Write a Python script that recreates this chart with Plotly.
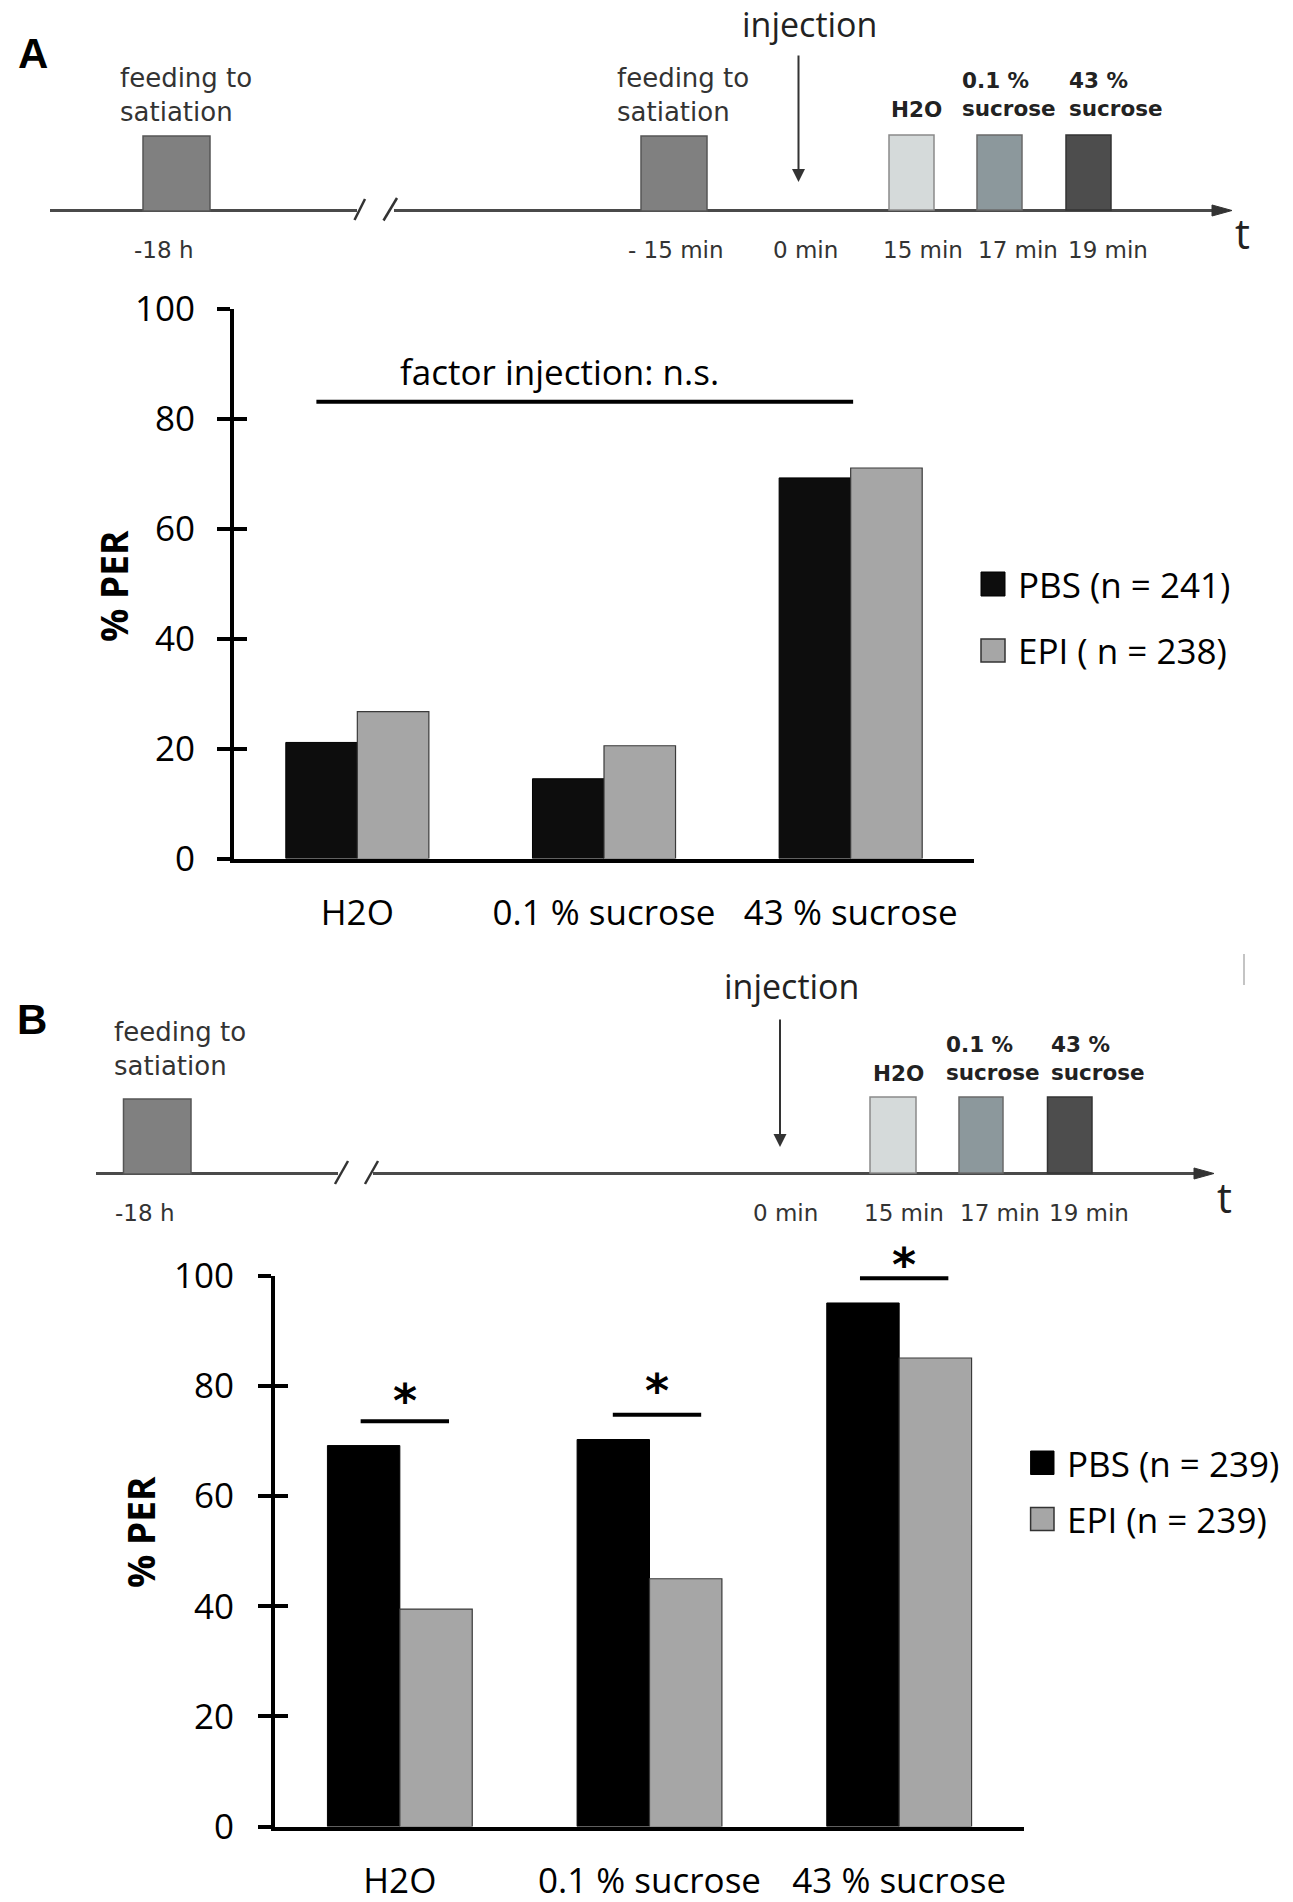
import plotly.graph_objects as go

W, H = 1293, 1902

# ---------------- data ----------------
categories = ["H2O", "0.1 % sucrose", "43 % sucrose"]
pbs_A = [21.1, 14.5, 69.2]
epi_A = [26.7, 20.5, 71.0]
pbs_B = [69.2, 70.3, 95.1]
epi_B = [39.5, 45.0, 85.1]
names_A = ["PBS (n = 241)", "EPI ( n = 238)"]
names_B = ["PBS (n = 239)", "EPI (n = 239)"]
y_ticks = [0, 20, 40, 60, 80, 100]
y_title = "% PER"
ns_label = "factor injection: n.s."
sig_label = "*"
sig_centers_B = [0.02, 1.03, 2.02]
sig_y_B = [73.6, 74.8, 99.6]
star_y_B = [78.0, 79.9, 102.7]

# ---------------- helpers ----------------
def X(px):
    return px / W


def Y(py):
    return 1 - py / H


CH_FONT = "Open Sans"
TL_FONT = "DejaVu Sans"
PBS_A_COL = "#0d0d0d"
PBS_B_COL = "#000000"
EPI_COL = "#a6a6a6"

fig = go.Figure()

fig.add_trace(go.Bar(x=categories, y=pbs_A, name=names_A[0], marker=dict(color=PBS_A_COL, line=dict(color="#000", width=1)),
                     xaxis="x", yaxis="y", showlegend=False))
fig.add_trace(go.Bar(x=categories, y=epi_A, name=names_A[1], marker=dict(color=EPI_COL, line=dict(color="#3a3a3a", width=1.2)),
                     xaxis="x", yaxis="y", showlegend=False))
fig.add_trace(go.Bar(x=categories, y=pbs_B, name=names_B[0], marker=dict(color=PBS_B_COL, line=dict(color="#000", width=1)),
                     xaxis="x2", yaxis="y2", showlegend=False))
fig.add_trace(go.Bar(x=categories, y=epi_B, name=names_B[1], marker=dict(color=EPI_COL, line=dict(color="#3a3a3a", width=1.2)),
                     xaxis="x2", yaxis="y2", showlegend=False))
# dummy traces for inner tick halves
fig.add_trace(go.Scatter(x=[categories[0]], y=[None], xaxis="x", yaxis="y3", mode="markers",
                         showlegend=False, hoverinfo="skip"))
fig.add_trace(go.Scatter(x=[categories[0]], y=[None], xaxis="x2", yaxis="y4", mode="markers",
                         showlegend=False, hoverinfo="skip"))

# ---------------- axes ----------------
A_x = (234, 974)
A_y = (308.5, 858.5)
B_x = (275, 1024)
B_y = (1276, 1826.5)

xcommon = dict(type="category", range=[-0.5, 2.5], showline=True, linewidth=4, linecolor="black",
               ticks="", showgrid=False, zeroline=False,
               tickfont=dict(family=CH_FONT, size=35, color="black"), ticklabelstandoff=20)
ycommon = dict(range=[0, 100], tickvals=y_ticks, showline=True, linewidth=4, linecolor="black",
               ticks="outside", ticklen=13, tickwidth=4, tickcolor="black", showgrid=False, zeroline=False,
               tickfont=dict(family=CH_FONT, size=35, color="black"))
yinner = dict(range=[0, 100], tickvals=y_ticks, showline=False, ticks="inside", ticklen=13, tickwidth=4,
              tickcolor="black", showticklabels=False, showgrid=False, zeroline=False, side="left")

fig.update_layout(
    xaxis=dict(domain=[X(A_x[0]), X(A_x[1])], anchor="y", **xcommon),
    yaxis=dict(domain=[Y(A_y[1]), Y(A_y[0])], anchor="x", ticklabelstandoff=15, **ycommon),
    xaxis2=dict(domain=[X(B_x[0]), X(B_x[1])], anchor="y2", **xcommon),
    yaxis2=dict(domain=[Y(B_y[1]), Y(B_y[0])], anchor="x2", ticklabelstandoff=17, **ycommon),
    yaxis3=dict(overlaying="y", anchor="x", **yinner),
    yaxis4=dict(overlaying="y2", anchor="x2", **yinner),
    barmode="group", bargap=0.42, bargroupgap=0,
    width=W, height=H, margin=dict(l=0, r=0, t=0, b=0, autoexpand=False),
    paper_bgcolor="white", plot_bgcolor="white", showlegend=False,
)

shapes = []
annotations = []


def add_text(text, x, y, size, family=TL_FONT, color="#333333", xanchor="center", bold=False, align="center", angle=0):
    annotations.append(dict(text=("<b>%s</b>" % text) if bold else text, x=X(x), y=Y(y), xref="paper", yref="paper",
                            showarrow=False, xanchor=xanchor, yanchor="middle", align=align, textangle=angle,
                            font=dict(family=family, size=size, color=color)))


def add_rect(x0, x1, y0, y1, fill, line, lw=1.5):
    shapes.append(dict(type="rect", xref="paper", yref="paper", x0=X(x0), x1=X(x1), y0=Y(y1), y1=Y(y0),
                       fillcolor=fill, line=dict(color=line, width=lw), layer="above"))


def add_line(x0, y0, x1, y1, color, lw):
    shapes.append(dict(type="line", xref="paper", yref="paper", x0=X(x0), y0=Y(y0), x1=X(x1), y1=Y(y1),
                       line=dict(color=color, width=lw)))


def add_tri(xtip, y, length=20, half=5.5, color="#444"):
    path = "M %f,%f L %f,%f L %f,%f Z" % (X(xtip - length), Y(y - half), X(xtip), Y(y), X(xtip - length), Y(y + half))
    shapes.append(dict(type="path", xref="paper", yref="paper", path=path, fillcolor=color, line=dict(color=color, width=1)))


def add_down_arrow(x, y_top, y_bottom):
    annotations.append(dict(text="", x=X(x), y=Y(y_bottom), xref="paper", yref="paper", showarrow=True,
                            ax=0, ay=-(y_bottom - y_top), axref="pixel", ayref="pixel",
                            arrowhead=2, arrowsize=1.3, arrowwidth=2, arrowcolor="#333"))


TL_LINE = "#4a4a4a"

# ---------------- timeline A ----------------
add_text("A", 33, 53, 42, family="Liberation Sans", color="black", bold=True)
add_line(50, 210.5, 357, 210.5, TL_LINE, 3)
add_line(394, 210.5, 1214, 210.5, TL_LINE, 3)
add_tri(1232, 210.5, color="#333")
add_line(354.5, 220, 365, 199, "#333", 2.5)
add_line(383.5, 220.5, 397, 198, "#333", 2.5)
add_rect(143, 210, 136, 211, "#808080", "#555555")
add_rect(641, 707, 136, 211, "#808080", "#555555")
add_rect(889, 934, 135, 210, "#d5dada", "#8a8a8a")
add_rect(977, 1022, 135, 210, "#8c989c", "#6a6a6a")
add_rect(1066, 1111, 135, 210, "#4d4d4d", "#333333")
add_down_arrow(798.5, 54, 182)
add_text("injection", 810, 24, 34, family=CH_FONT, color="#222222")
add_text("feeding to<br>satiation", 118, 95, 26, xanchor="left", align="left")
add_text("feeding to<br>satiation", 615, 95, 26, xanchor="left", align="left")
add_text("H2O", 916, 110, 21.5, color="#222222", bold=True)
add_text("0.1 %<br>sucrose", 960, 94, 21.5, color="#222222", bold=True, xanchor="left", align="left")
add_text("43 %<br>sucrose", 1067, 94, 21.5, color="#222222", bold=True, xanchor="left", align="left")
for lab, cx in [("-18 h", 163), ("- 15 min", 676), ("0 min", 805), ("15 min", 923), ("17 min", 1018), ("19 min", 1108)]:
    add_text(lab, cx, 250, 23)
add_text("t", 1242, 232, 42, family=CH_FONT, color="#222222")

# ---------------- chart A extras ----------------
add_text(y_title, 113, 586, 37, family=CH_FONT, color="black", bold=True, angle=-90)
shapes.append(dict(type="line", xref="x", yref="y", x0=-0.166, x1=2.01, y0=83.05, y1=83.05,
                   line=dict(color="black", width=4)))
annotations.append(dict(text=ns_label, x=0.82, y=88.5, xref="x", yref="y", showarrow=False,
                        xanchor="center", yanchor="middle", font=dict(family=CH_FONT, size=35, color="black")))
add_rect(981, 1005, 572, 596, PBS_A_COL, "#000000", 1)
add_rect(981, 1005, 639, 662, EPI_COL, "#333333", 1.5)
add_text(names_A[0], 1016, 584, 35, family=CH_FONT, color="black", xanchor="left")
add_text(names_A[1], 1016, 650, 35, family=CH_FONT, color="black", xanchor="left")

# ---------------- timeline B ----------------
add_text("B", 32, 1019, 42, family="Liberation Sans", color="black", bold=True)
add_line(96, 1173.5, 338, 1173.5, TL_LINE, 3)
add_line(373, 1173.5, 1196, 1173.5, TL_LINE, 3)
add_tri(1214, 1173.5, color="#333")
add_line(335, 1184, 348, 1161, "#333", 2.5)
add_line(365, 1184, 378, 1161, "#333", 2.5)
add_rect(123.5, 191, 1099, 1174, "#808080", "#555555")
add_rect(870, 916, 1097, 1173, "#d5dada", "#8a8a8a")
add_rect(959, 1003, 1097, 1173, "#8c989c", "#6a6a6a")
add_rect(1047.5, 1092, 1097, 1173, "#4d4d4d", "#333333")
add_down_arrow(780, 1018, 1147)
add_text("injection", 791, 986, 34, family=CH_FONT, color="#222222")
add_text("feeding to<br>satiation", 112, 1049, 26, xanchor="left", align="left")
add_text("H2O", 898, 1073, 21.5, color="#222222", bold=True)
add_text("0.1 %<br>sucrose", 943.6, 1058.5, 21.5, color="#222222", bold=True, xanchor="left", align="left")
add_text("43 %<br>sucrose", 1048.5, 1058.5, 21.5, color="#222222", bold=True, xanchor="left", align="left")
for lab, cx in [("-18 h", 144), ("0 min", 785.5), ("15 min", 904), ("17 min", 1000), ("19 min", 1089)]:
    add_text(lab, cx, 1213, 23)
add_text("t", 1224, 1196, 42, family=CH_FONT, color="#222222")
add_line(1244, 954, 1244, 985, "#b0b0b0", 1.5)

# ---------------- chart B extras ----------------
add_text(y_title, 140, 1532, 37, family=CH_FONT, color="black", bold=True, angle=-90)
dom_b0, dom_b1 = Y(B_y[1]), Y(B_y[0])
for cx, sy, st in zip(sig_centers_B, sig_y_B, star_y_B):
    shapes.append(dict(type="line", xref="x2", yref="y2", x0=cx - 0.177, x1=cx + 0.177, y0=sy, y1=sy,
                       line=dict(color="black", width=4)))
    # star placed in paper space (axis value -> paper) so it is never hidden above the axis range
    star_py = (dom_b0 + (st / 100.0) * (dom_b1 - dom_b0)) - 4.0 / H
    annotations.append(dict(text="<b>%s</b>" % sig_label, x=cx, y=star_py, xref="x2", yref="paper", showarrow=False,
                            xanchor="center", yanchor="middle",
                            font=dict(family="DejaVu Sans", size=46, color="black")))
add_rect(1030.6, 1054, 1451, 1474.5, PBS_B_COL, "#000000", 1)
add_rect(1030.6, 1054, 1507.6, 1530.4, EPI_COL, "#333333", 1.5)
add_text(names_B[0], 1065, 1463, 35, family=CH_FONT, color="black", xanchor="left")
add_text(names_B[1], 1065, 1519, 35, family=CH_FONT, color="black", xanchor="left")

fig.update_layout(shapes=shapes, annotations=annotations)
fig.write_html("out.html", config={"displayModeBar": False},
               post_script="document.body.style.margin='0px';document.body.style.padding='0px';")
